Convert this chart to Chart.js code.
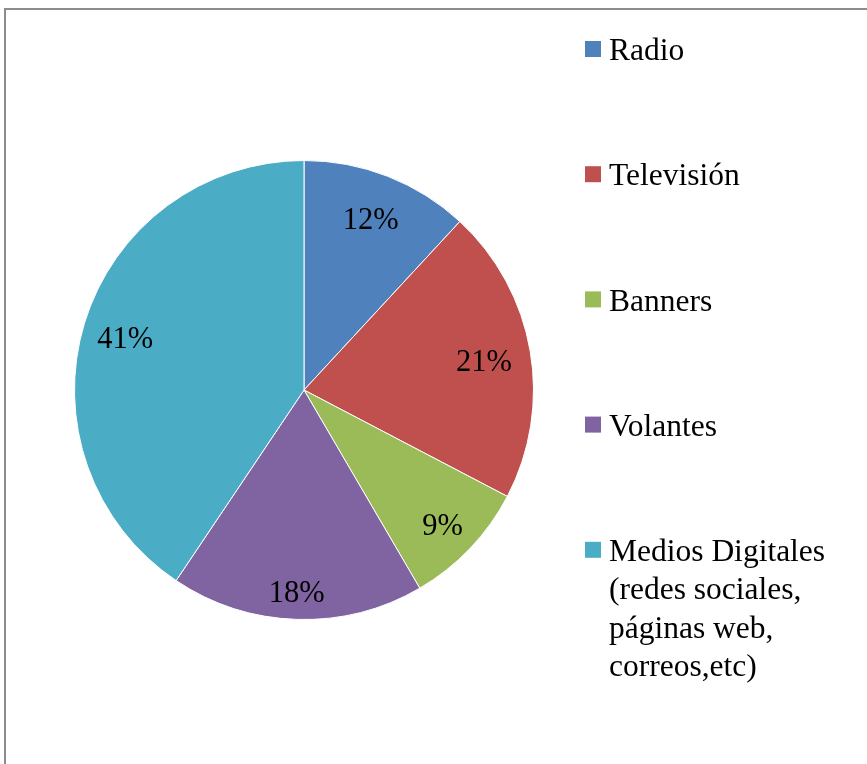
<!DOCTYPE html>
<html>
<head>
<meta charset="utf-8">
<script src="https://cdn.jsdelivr.net/npm/chart.js@4/dist/chart.umd.min.js"></script>
<style>
  html, body { margin: 0; padding: 0; background: #fff; }
  #wrap { width: 867px; height: 764px; position: relative; }
</style>
</head>
<body>
<div id="wrap"><canvas id="c" width="867" height="764"></canvas></div>
<script>
// Medios publicitarios preferidos (porcentaje)
const categories = ['Radio', 'Televisión', 'Banners', 'Volantes', 'Medios Digitales (redes sociales, páginas web, correos,etc)'];
const legendLines = [
  ['Radio'],
  ['Televisión'],
  ['Banners'],
  ['Volantes'],
  ['Medios Digitales', '(redes sociales,', 'páginas web,', 'correos,etc)']
];
const values = [12, 21, 9, 18, 41];
const colors = ['#4F81BD', '#C0504D', '#9BBB59', '#8064A2', '#4BACC6'];
// how far out (fraction of the radius) each percent label sits
const labelRadius = [0.81, 0.80, 0.84, 0.87, 0.81];

const FONT = '"Liberation Serif", "Times New Roman", serif';

// Frame lines around the chart area
const framePlugin = {
  id: 'frame',
  beforeDraw(chart) {
    const ctx = chart.ctx;
    ctx.save();
    ctx.fillStyle = '#fff';
    ctx.fillRect(0, 0, chart.width, chart.height);
    ctx.strokeStyle = '#8c8c8c';
    ctx.lineWidth = 2;
    ctx.beginPath();
    ctx.moveTo(5, chart.height);
    ctx.lineTo(5, 9);
    ctx.lineTo(chart.width, 9);
    ctx.stroke();
    ctx.restore();
  }
};

// Percent labels inside each slice
const sliceLabels = {
  id: 'sliceLabels',
  afterDatasetsDraw(chart) {
    const ctx = chart.ctx;
    const meta = chart.getDatasetMeta(0);
    ctx.save();
    ctx.fillStyle = '#000';
    ctx.font = '30.5px ' + FONT;
    ctx.textAlign = 'center';
    ctx.textBaseline = 'middle';
    meta.data.forEach((arc, i) => {
      const p = arc.getProps(['x', 'y', 'startAngle', 'endAngle', 'outerRadius'], true);
      const mid = (p.startAngle + p.endAngle) / 2;
      const r = p.outerRadius * labelRadius[i];
      ctx.fillText(values[i] + '%', p.x + Math.cos(mid) * r - 1, p.y + Math.sin(mid) * r + 4);
    });
    ctx.restore();
  }
};

// Legend column on the right
const sideLegend = {
  id: 'sideLegend',
  afterDraw(chart) {
    const ctx = chart.ctx;
    ctx.save();
    ctx.font = '31.5px ' + FONT;
    ctx.textBaseline = 'middle';
    ctx.textAlign = 'left';
    const x0 = 585, step = 125.2, top = 49, lh = 38.3;
    legendLines.forEach((lines, i) => {
      const y = top + i * step;
      ctx.fillStyle = colors[i];
      ctx.fillRect(x0, y - 8, 16, 16);
      ctx.fillStyle = '#000';
      lines.forEach((t, k) => ctx.fillText(t, x0 + 24, y + k * lh + 3));
    });
    ctx.restore();
  }
};

new Chart(document.getElementById('c'), {
  type: 'pie',
  data: {
    labels: categories,
    datasets: [{
      data: values,
      backgroundColor: colors,
      borderColor: '#ffffff',
      borderWidth: 1,
      hoverOffset: 0
    }]
  },
  options: {
    responsive: false,
    animation: false,
    layout: { padding: { left: 74, top: 160, right: 333, bottom: 144 } },
    plugins: {
      legend: { display: false },
      tooltip: { enabled: false }
    }
  },
  plugins: [framePlugin, sliceLabels, sideLegend]
});
</script>
</body>
</html>
